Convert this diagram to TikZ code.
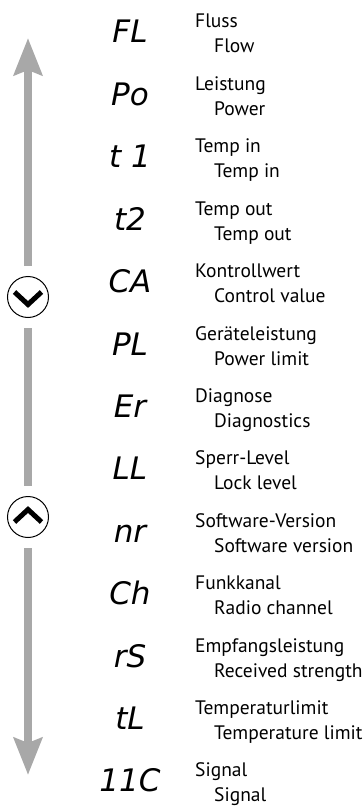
\documentclass[tikz,border=0pt]{standalone}
\usepackage{fontspec}
\setmainfont{PT Sans}
\newfontfamily\segfont{DejaVu Sans}
\usetikzlibrary{arrows.meta}

\definecolor{arrowgray}{RGB}{168,168,168}

\tikzset{
  lbl/.style={anchor=base west, inner sep=0pt, font=\fontsize{19.5}{19.5}\selectfont},
  code/.style={anchor=base, inner sep=0pt, font=\segfont\fontsize{31}{31}\selectfont\slshape},
  keybtn/.style={draw, circle, line width=1pt, minimum size=41pt, inner sep=0pt},
  chev/.style={line width=5pt, miter limit=10},
  scroll/.style={draw=arrowgray, line width=8pt, shorten <=10pt, -{Stealth[length=37pt,width=28pt,inset=5pt]}},
}

\begin{document}
\begin{tikzpicture}[x=1pt,y=1pt,yscale=-1,xscale=1]
\useasboundingbox (0,0) rectangle (363,810);

%Buttons
\node[keybtn] (btndown) at (28,297) {};
\node[keybtn] (btnup) at (28,517) {};
\coordinate (toptip) at (28,38);
\coordinate (bottip) at (28,775);
%Scroll arrows
\draw[scroll] (btndown) -- (toptip);
\draw[draw=arrowgray, line width=8pt, shorten <=10pt, shorten >=10pt] (btndown) -- (btnup);
\draw[scroll] (btnup) -- (bottip);
%Chevrons
\draw[chev] (14.5,292) -- (28,304.5) -- (41.5,292);
\draw[chev] (14.5,522) -- (28,509.5) -- (41.5,522);

% Display codes
\node[code] (cFL) at (130,43) {FL};
\node[code] (cPo) at (130,105.4) {Po};
\node[code] (ctin) at (130,167.8) {t 1};
\node[code] (ctout) at (130,230.2) {t2};
\node[code] (cCA) at (130,292.6) {CA};
\node[code] (cPL) at (130,355) {PL};
\node[code] (cEr) at (130,417.4) {Er};
\node[code] (cLL) at (130,479.8) {LL};
\node[code] (cnr) at (130,542.2) {nr};
\node[code] (cCh) at (130,604.6) {Ch};
\node[code] (crS) at (130,667) {rS};
\node[code] (ctL) at (130,729.4) {tL};
\node[code] (cIIC) at (130,791.8) {11C};

% Text Node
\node[lbl] (deFL) at (195,28) {Fluss};
\node[lbl] (enFL) at (214,53) {Flow};
% Text Node
\node[lbl] (dePo) at (195,90.4) {Leistung};
\node[lbl] (enPo) at (214,115.4) {Power};
% Text Node
\node[lbl] (detin) at (195,152.8) {Temp in};
\node[lbl] (entin) at (214,177.8) {Temp in};
% Text Node
\node[lbl] (detout) at (195,215.2) {Temp out};
\node[lbl] (entout) at (214,240.2) {Temp out};
% Text Node
\node[lbl] (deCA) at (195,277.6) {Kontrollwert};
\node[lbl] (enCA) at (214,302.6) {Control value};
% Text Node
\node[lbl] (dePL) at (195,340) {Geräteleistung};
\node[lbl] (enPL) at (214,365) {Power limit};
% Text Node
\node[lbl] (deEr) at (195,402.4) {Diagnose};
\node[lbl] (enEr) at (214,427.4) {Diagnostics};
% Text Node
\node[lbl] (deLL) at (195,464.8) {Sperr-Level};
\node[lbl] (enLL) at (214,489.8) {Lock level};
% Text Node
\node[lbl] (denr) at (195,527.2) {Software-Version};
\node[lbl] (ennr) at (214,552.2) {Software version};
% Text Node
\node[lbl] (deCh) at (195,589.6) {Funkkanal};
\node[lbl] (enCh) at (214,614.6) {Radio channel};
% Text Node
\node[lbl] (derS) at (195,652) {Empfangsleistung};
\node[lbl] (enrS) at (214,677) {Received strength};
% Text Node
\node[lbl] (detL) at (195,714.4) {Temperaturlimit};
\node[lbl] (entL) at (214,739.4) {Temperature limit};
% Text Node
\node[lbl] (deIIC) at (195,776.8) {Signal};
\node[lbl] (enIIC) at (214,801.8) {Signal};

\end{tikzpicture}
\end{document}
